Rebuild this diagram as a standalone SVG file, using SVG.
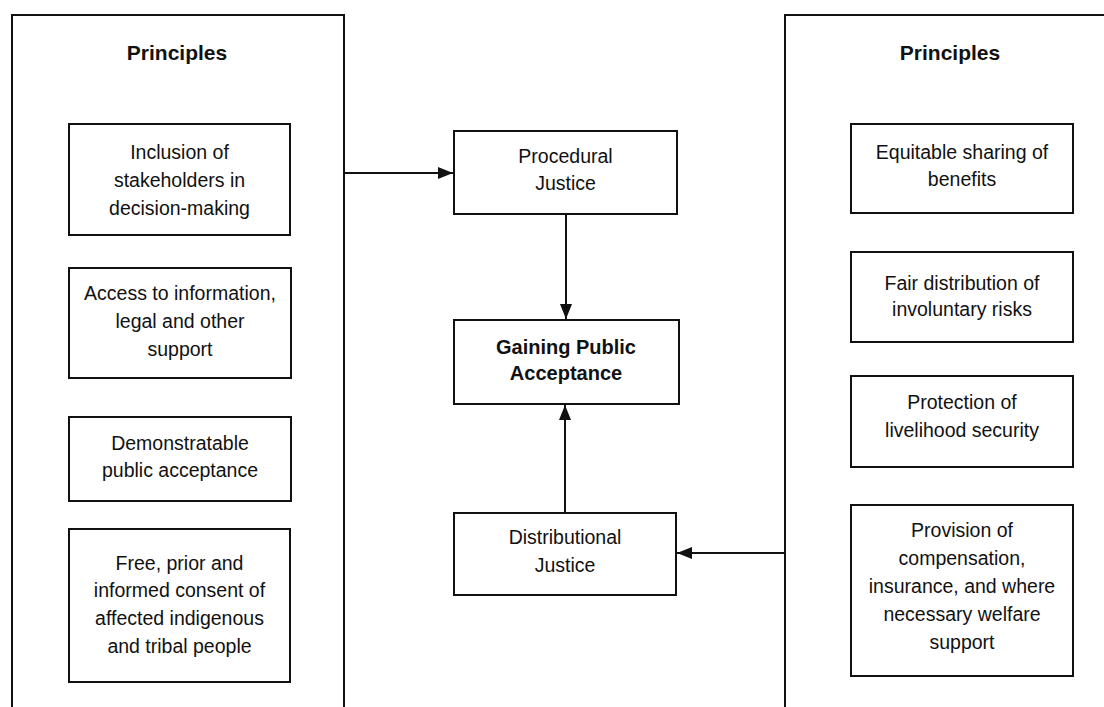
<svg xmlns="http://www.w3.org/2000/svg" width="1104" height="707" viewBox="0 0 1104 707">
  <style>
    .panel { fill: none; stroke: #111; stroke-width: 2; }
    .box { fill: #fff; stroke: #111; stroke-width: 2; }
    .txt { font-family: "Liberation Sans", Arial, sans-serif; font-size: 19.5px; fill: #111; text-anchor: middle; }
    .hdr { font-family: "Liberation Sans", Arial, sans-serif; font-size: 21px; font-weight: bold; fill: #111; text-anchor: middle; }
    .bold { font-weight: bold; font-size: 20px; }
    .conn { fill: none; stroke: #111; stroke-width: 2; }
  </style>
  <defs>
    <marker id="arrow" viewBox="0 0 15 12" refX="15" refY="6" markerWidth="15" markerHeight="12" markerUnits="userSpaceOnUse" orient="auto">
      <path d="M0,0 L15,6 L0,12 Z" fill="#111"/>
    </marker>
  </defs>
  <rect width="1104" height="707" fill="#fff"/>

  <!-- left principles panel (open at the bottom) -->
  <g id="left-panel">
    <path class="panel" d="M12,707 V15 H344 V707"/>
    <text class="hdr" x="177" y="60">Principles</text>
  </g>

  <g id="inclusion">
    <rect class="box" x="69" y="124" width="221" height="111"/>
    <text class="txt" x="179.5" y="159">Inclusion of</text>
    <text class="txt" x="179.5" y="187">stakeholders in</text>
    <text class="txt" x="179.5" y="215">decision-making</text>
  </g>

  <g id="access">
    <rect class="box" x="69" y="268" width="222" height="110"/>
    <text class="txt" x="180" y="300">Access to information,</text>
    <text class="txt" x="180" y="328">legal and other</text>
    <text class="txt" x="180" y="356">support</text>
  </g>

  <g id="demonstratable">
    <rect class="box" x="69" y="417" width="222" height="84"/>
    <text class="txt" x="180" y="450">Demonstratable</text>
    <text class="txt" x="180" y="477">public acceptance</text>
  </g>

  <g id="consent">
    <rect class="box" x="69" y="529" width="221" height="153"/>
    <text class="txt" x="179.5" y="570">Free, prior and</text>
    <text class="txt" x="179.5" y="597">informed consent of</text>
    <text class="txt" x="179.5" y="625">affected indigenous</text>
    <text class="txt" x="179.5" y="653">and tribal people</text>
  </g>

  <!-- central column -->
  <g id="procedural">
    <rect class="box" x="454" y="131" width="223" height="83"/>
    <text class="txt" x="565.5" y="163">Procedural</text>
    <text class="txt" x="565.5" y="190">Justice</text>
  </g>

  <g id="gaining">
    <rect class="box" x="454" y="320" width="225" height="84"/>
    <text class="txt bold" x="566" y="354">Gaining Public</text>
    <text class="txt bold" x="566" y="380">Acceptance</text>
  </g>

  <g id="distributional">
    <rect class="box" x="454" y="513" width="222" height="82"/>
    <text class="txt" x="565" y="544">Distributional</text>
    <text class="txt" x="565" y="572">Justice</text>
  </g>

  <!-- right principles panel (open at the bottom and right) -->
  <g id="right-panel">
    <path class="panel" d="M785,707 V15 H1104"/>
    <text class="hdr" x="950" y="60">Principles</text>
  </g>

  <g id="sharing">
    <rect class="box" x="851" y="124" width="222" height="89"/>
    <text class="txt" x="962" y="159">Equitable sharing of</text>
    <text class="txt" x="962" y="186">benefits</text>
  </g>

  <g id="risks">
    <rect class="box" x="851" y="252" width="222" height="90"/>
    <text class="txt" x="962" y="290">Fair distribution of</text>
    <text class="txt" x="962" y="316">involuntary risks</text>
  </g>

  <g id="livelihood">
    <rect class="box" x="851" y="376" width="222" height="91"/>
    <text class="txt" x="962" y="409">Protection of</text>
    <text class="txt" x="962" y="437">livelihood security</text>
  </g>

  <g id="compensation">
    <rect class="box" x="851" y="505" width="222" height="171"/>
    <text class="txt" x="962" y="537">Provision of</text>
    <text class="txt" x="962" y="565">compensation,</text>
    <text class="txt" x="962" y="593">insurance, and where</text>
    <text class="txt" x="962" y="621">necessary welfare</text>
    <text class="txt" x="962" y="649">support</text>
  </g>

  <!-- connectors -->
  <g id="connectors">
    <line class="conn" x1="344" y1="173" x2="453" y2="173" marker-end="url(#arrow)"/>
    <line class="conn" x1="566" y1="214" x2="566" y2="319" marker-end="url(#arrow)"/>
    <line class="conn" x1="565" y1="513" x2="565" y2="405" marker-end="url(#arrow)"/>
    <line class="conn" x1="785" y1="553" x2="677" y2="553" marker-end="url(#arrow)"/>
  </g>
</svg>
